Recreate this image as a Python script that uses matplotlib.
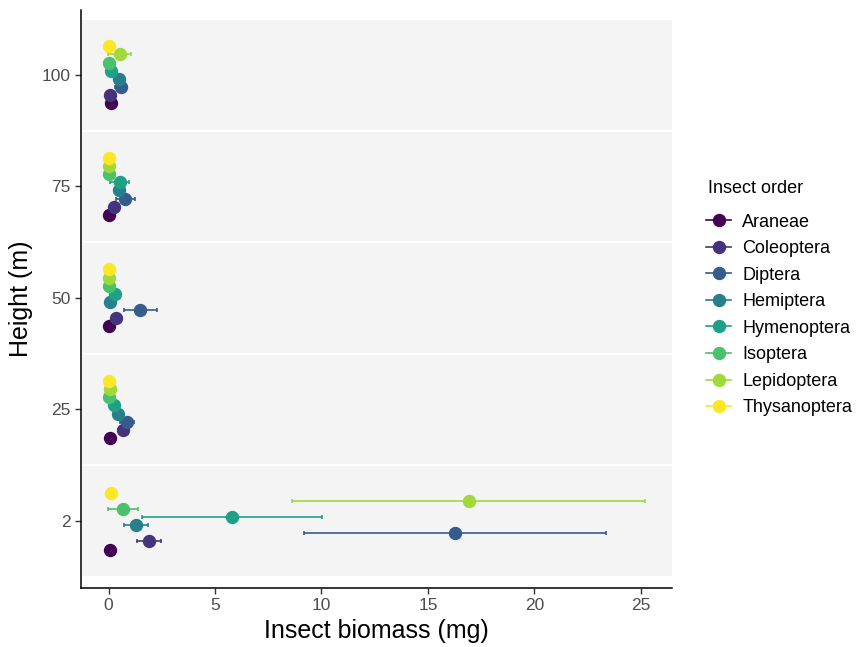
import numpy as np
import matplotlib
matplotlib.use('Agg')
import matplotlib.pyplot as plt
from matplotlib.lines import Line2D

plt.rcParams['font.family'] = ['Liberation Sans', 'DejaVu Sans']

# categories
heights = ['2', '25', '50', '75', '100']
orders = ['Araneae', 'Coleoptera', 'Diptera', 'Hemiptera',
          'Hymenoptera', 'Isoptera', 'Lepidoptera', 'Thysanoptera']
order_colors = ['#440154', '#46337E', '#365C8D', '#277F8E',
                '#1FA187', '#4AC16D', '#9FDA3A', '#FDE725']

# mean biomass (mg), rows = heights, cols = orders
biomass = [
    [0.05, 1.91, 16.27, 1.30, 5.79, 0.68, 16.92, 0.13],   # 2 m
    [0.08, 0.67, 0.86, 0.44, 0.23, 0.00, 0.05, 0.00],     # 25 m
    [0.03, 0.36, 1.49, 0.08, 0.28, 0.00, 0.00, 0.00],     # 50 m
    [0.00, 0.27, 0.78, 0.47, 0.52, 0.00, 0.00, 0.00],     # 75 m
    [0.11, 0.08, 0.58, 0.50, 0.11, 0.00, 0.52, 0.00],     # 100 m
]
# error half-widths (mg)
biomass_err = [
    [0.00, 0.57, 7.10, 0.56, 4.23, 0.72, 8.30, 0.00],
    [0.00, 0.25, 0.33, 0.00, 0.00, 0.00, 0.00, 0.00],
    [0.00, 0.00, 0.77, 0.00, 0.00, 0.00, 0.00, 0.00],
    [0.00, 0.00, 0.45, 0.22, 0.44, 0.00, 0.00, 0.00],
    [0.00, 0.00, 0.30, 0.00, 0.00, 0.00, 0.55, 0.00],
]

biomass = np.array(biomass)
biomass_err = np.array(biomass_err)

fig = plt.figure(figsize=(8.56, 6.47), dpi=100)
ax = fig.add_axes([0.0946, 0.0912, 0.690, 0.8933])

# grey bands behind each height
for i in range(len(heights)):
    ax.axhspan(i - 0.491, i + 0.491, color='#f4f4f4', lw=0, zorder=0)

step = 0.073
handles = []
for j, name in enumerate(orders):
    ypos = np.arange(len(heights)) + (j - 3.5) * step
    ax.errorbar(biomass[:, j], ypos, xerr=biomass_err[:, j], fmt='o',
                color=order_colors[j], ms=8.6, elinewidth=1.2,
                capsize=1.5, capthick=1.2, zorder=3)
    handles.append(Line2D([], [], color=order_colors[j], marker='o',
                          ms=8.6, lw=1.2, label=name))

ax.set_xlim(-1.3, 26.45)
ax.set_ylim(-0.6, 4.58)
ax.set_xticks([0, 5, 10, 15, 20, 25])
ax.set_yticks(range(len(heights)))
ax.set_yticklabels(heights)

for s in ['top', 'right']:
    ax.spines[s].set_visible(False)
for s in ['left', 'bottom']:
    ax.spines[s].set_linewidth(1.1)
ax.tick_params(axis='both', labelsize=12.5, colors='#333333', labelcolor='#4d4d4d',
               length=4, width=1)

ax.set_xlabel('Insect biomass (mg)', fontsize=18, labelpad=4)
ax.set_ylabel('Height (m)', fontsize=18, labelpad=6)

# legend
fig.text(708 / 856, 1 - 188 / 647, 'Insect order', fontsize=13, va='center')
fig.legend(handles=handles, loc='center left',
           bbox_to_anchor=(0.825, 1 - 315 / 647), frameon=False, fontsize=13,
           labelspacing=0.53, handlelength=1.4,
           handletextpad=0.6, borderpad=0, borderaxespad=0)

fig.savefig('out.png', dpi=100)
